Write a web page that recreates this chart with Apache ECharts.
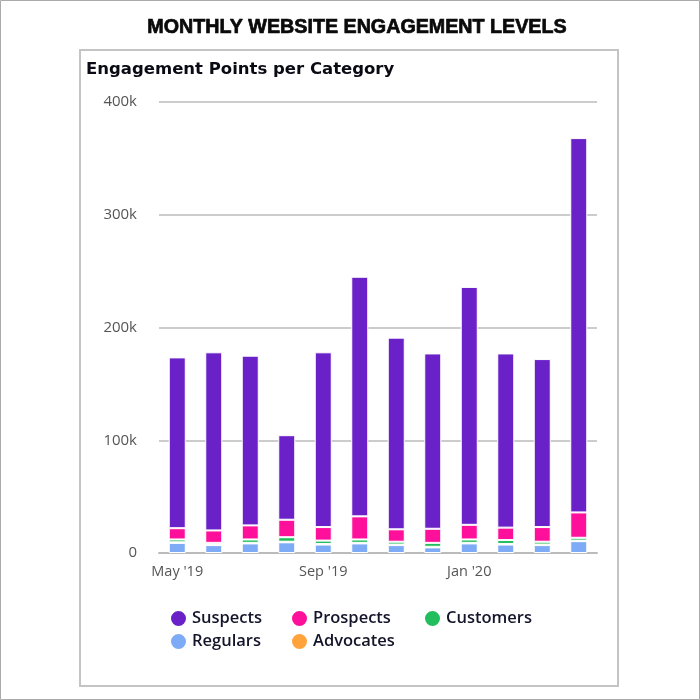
<!DOCTYPE html>
<html><head><meta charset="utf-8">
<script src="https://cdn.jsdelivr.net/npm/echarts@6/dist/echarts.min.js"></script>
<style>html,body{margin:0;padding:0;background:#fff}#c{width:700px;height:700px}</style>
</head><body><div id="c"></div>
<script>
const months = ["May '19","Jun '19","Jul '19","Aug '19","Sep '19","Oct '19","Nov '19","Dec '19","Jan '20","Feb '20","Mar '20","Apr '20"];
const regulars  = [9000, 7000, 8500, 9500, 7500, 8500, 7000, 5000, 8500, 7500, 7000, 10500];
const advocates = [500, 500, 500, 500, 500, 500, 500, 500, 500, 500, 500, 500];
const customers = [2500, 1500, 3000, 4000, 3000, 3000, 2500, 3500, 3000, 3500, 2500, 2500];
const prospects = [10000, 11000, 12500, 15500, 12000, 20500, 11000, 12500, 13000, 11000, 13000, 22500];
const suspects  = [151500, 158000, 150500, 75000, 155000, 212500, 170000, 155500, 211000, 154500, 149000, 332000];
const yTicks = [0, 100000, 200000, 300000, 400000];

const colors = {Suspects:'#6a22c8', Prospects:'#ff109a', Customers:'#22bd5c', Regulars:'#7eabf5', Advocates:'#ffa33a'};
function bar(name, data){
  return {name, type:'bar', stack:'s', data, barWidth:17,
    itemStyle:{color:colors[name], borderColor:'#fff', borderWidth:1}};
}
const legFont = {fontFamily:'Open Sans', fontSize:16.5, fontWeight:600, color:'#14142a'};
function leg(name, left, top){
  return {data:[name], left, top, icon:'circle', itemWidth:17, itemHeight:17, itemGap:0,
    selectedMode:false, textStyle:legFont, padding:0};
}
const chart = echarts.init(document.getElementById('c'));
chart.setOption({
  animation:false,
  title:[
    {text:'MONTHLY WEBSITE ENGAGEMENT LEVELS', left:357, top:18, textAlign:'center', padding:0,
     textStyle:{fontFamily:'Liberation Sans', fontWeight:'bold', fontSize:19.7, color:'#0a0a0a',
       textBorderColor:'#0a0a0a', textBorderWidth:0.7}},
    {text:'Engagement Points per Category', left:86, top:61, padding:0,
     textStyle:{fontFamily:'DejaVu Sans', fontWeight:'bold', fontSize:16.5, color:'#0a0a14'}}
  ],
  graphic:[
    {type:'rect', shape:{x:0.5,y:0.5,width:699,height:699}, style:{fill:'none', stroke:'#aaa', lineWidth:1}},
    {type:'rect', shape:{x:80,y:50,width:538,height:636}, style:{fill:'none', stroke:'#c4c4c4', lineWidth:2}}
  ],
  legend:[
    leg('Suspects', 169, 609), leg('Prospects', 290, 609), leg('Customers', 423, 609),
    leg('Regulars', 169, 632), leg('Advocates', 290, 632)
  ],
  grid:{left:159, right:103, top:102, bottom:147},
  xAxis:{type:'category', data:months,
    axisLine:{lineStyle:{color:'#bbb', width:2}},
    axisTick:{interval:3, alignWithLabel:true, length:7, lineStyle:{color:'#bbb', width:2}},
    axisLabel:{interval:3, margin:11, fontFamily:'Open Sans', fontSize:14.5, color:'#555'}},
  yAxis:{type:'value', min:yTicks[0], max:yTicks[yTicks.length-1], interval:100000,
    axisLine:{show:false}, axisTick:{show:false},
    splitLine:{lineStyle:{color:'#ccc', width:2}},
    axisLabel:{margin:22, fontFamily:'Open Sans', fontSize:15, color:'#555',
      formatter:v=> v===0?'0':(v/1000)+'k'}},
  series:[bar('Regulars',regulars), bar('Advocates',advocates), bar('Customers',customers), bar('Prospects',prospects), bar('Suspects',suspects)]
});
</script></body></html>
